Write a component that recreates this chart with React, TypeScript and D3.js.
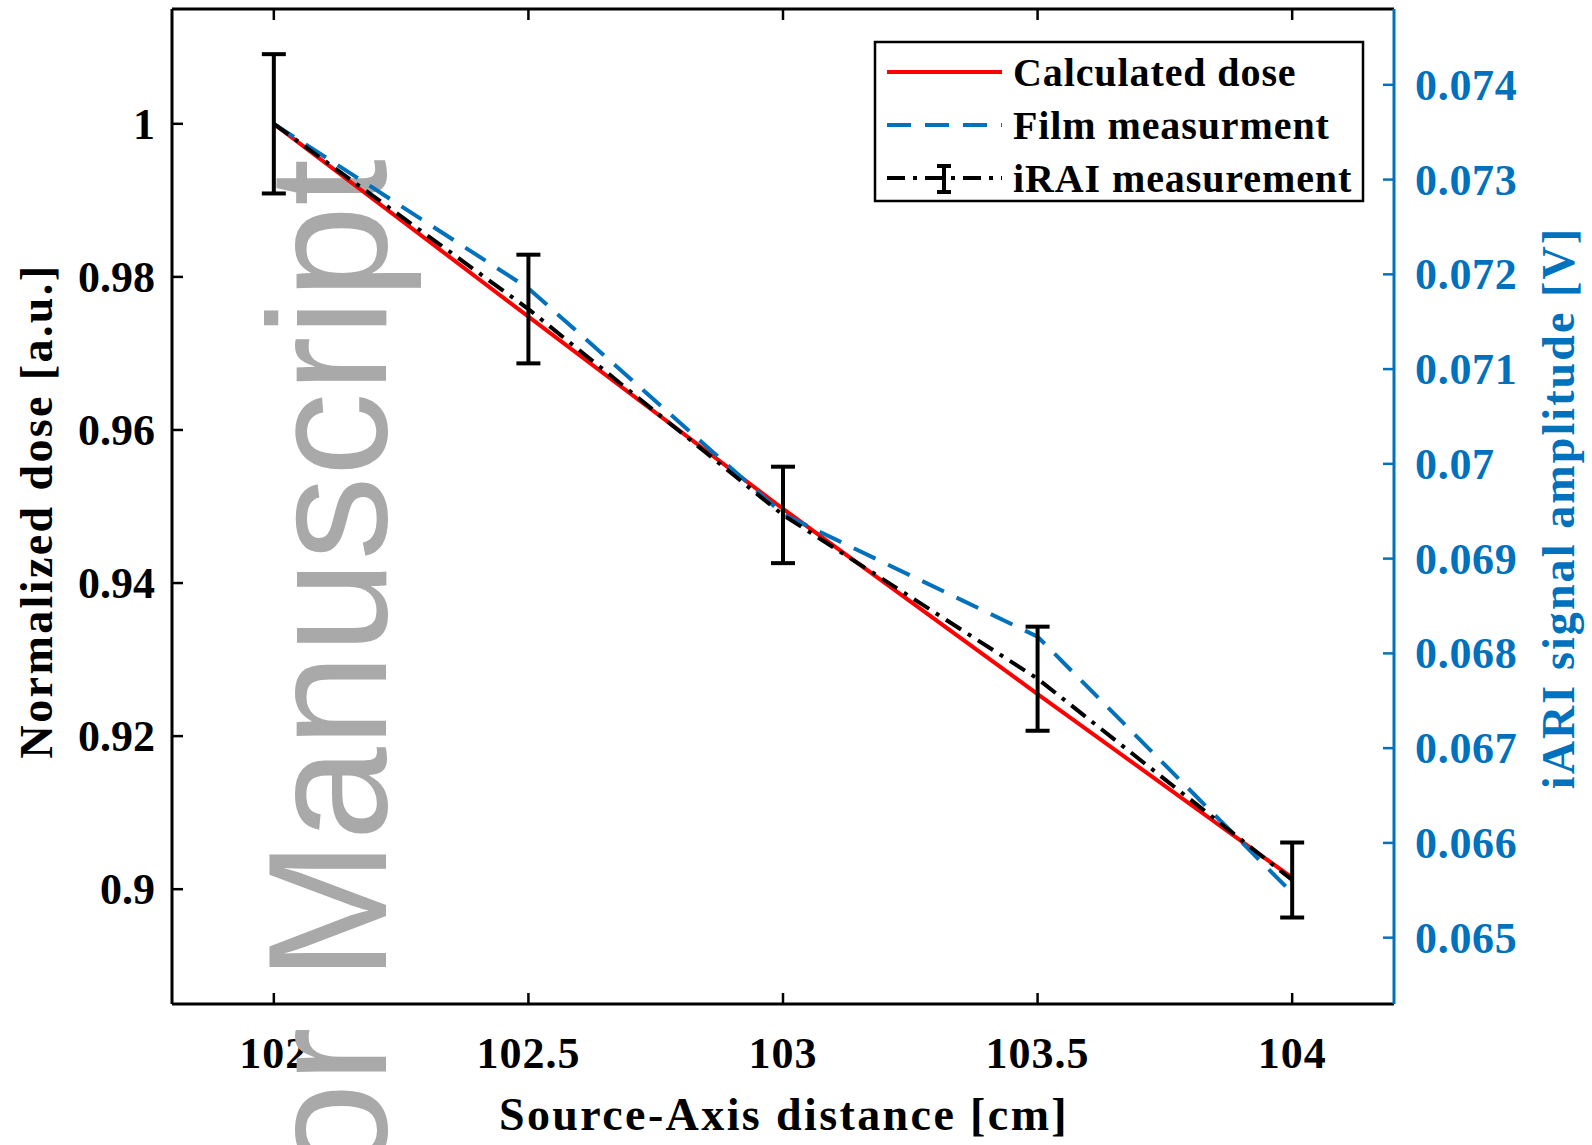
import React from "react";
import * as d3 from "d3";

// source-axis distance [cm]
const distance = [102, 102.5, 103, 103.5, 104];
// normalized dose values
const calculatedDose = [1.0, 0.9748, 0.9497, 0.9255, 0.9015];
const filmMeasurement = [1.0, 0.9785, 0.949, 0.933, 0.8995];
const iraiMeasurement = [1.0, 0.9758, 0.9489, 0.9275, 0.9012];
const iraiError = [0.0091, 0.0071, 0.0063, 0.0068, 0.0049];

const xTicks = [102, 102.5, 103, 103.5, 104];
const leftTicks = [0.9, 0.92, 0.94, 0.96, 0.98, 1];
const rightTicks = [0.065, 0.066, 0.067, 0.068, 0.069, 0.07, 0.071, 0.072, 0.073, 0.074];

const legendLabels = ["Calculated dose", "Film measurment", "iRAI measurement"];

const W = 1592;
const H = 1145;
const plot = { left: 172, right: 1394, top: 9, bottom: 1004 };
const BLUE = "#0072BD";
const RED = "#ff0000";
const serif = "'Liberation Serif', 'Times New Roman', serif";

export default function App() {
  const x = d3.scaleLinear().domain([101.8, 104.2]).range([plot.left, plot.right]);
  const y = d3.scaleLinear().domain([0.885, 1.015]).range([plot.bottom, plot.top]);
  const yRight = d3.scaleLinear().domain([0.0643, 0.0748]).range([plot.bottom, plot.top]);

  const line = d3
    .line<number>()
    .x((_, i) => x(distance[i]))
    .y((d) => y(d));

  const tickLen = 11;
  const capHalf = 12;

  return (
    <svg
      width={W}
      height={H}
      style={{ position: "absolute", left: 0, top: 0, background: "#fff" }}
      fontFamily={serif}
      fontWeight="bold"
    >
      <rect x={0} y={0} width={W} height={H} fill="#fff" />

      {/* tick labels */}
      {xTicks.map((t) => (
        <text
          key={`xl-${t}`}
          x={x(t)}
          y={1068}
          textAnchor="middle"
          fontSize={44}
          letterSpacing={1}
        >
          {t}
        </text>
      ))}
      {leftTicks.map((t) => (
        <text
          key={`yl-${t}`}
          x={155}
          y={y(t)}
          dy="0.34em"
          textAnchor="end"
          fontSize={44}
        >
          {String(+t.toFixed(2))}
        </text>
      ))}
      {rightTicks.map((t) => (
        <text
          key={`yr-${t}`}
          x={1415}
          y={yRight(t)}
          dy="0.34em"
          textAnchor="start"
          fontSize={44}
          letterSpacing={0.7}
          fill={BLUE}
        >
          {String(+t.toFixed(3))}
        </text>
      ))}

      {/* axis titles */}
      <text x={784} y={1130} textAnchor="middle" fontSize={46} letterSpacing={2.4}>
        Source-Axis distance [cm]
      </text>
      <text
        transform={`translate(52, ${511}) rotate(-90)`}
        textAnchor="middle"
        fontSize={46}
        letterSpacing={2.4}
      >
        Normalized dose [a.u.]
      </text>
      <text
        transform={`translate(1574, ${508}) rotate(-90)`}
        textAnchor="middle"
        fontSize={46}
        letterSpacing={2.1}
        fill={BLUE}
      >
        iARI signal amplitude [V]
      </text>

      {/* watermark */}
      <text
        transform="translate(386, 159) rotate(-90)"
        textAnchor="end"
        fontFamily="'Liberation Sans', Arial, sans-serif"
        fontWeight="normal"
        fontSize={168}
        fill="#a9a9a9"
      >
        Author Manuscript
      </text>

      {/* axes box */}
      <g fill="none" strokeWidth={3}>
        <line x1={plot.left} x2={plot.right} y1={plot.bottom} y2={plot.bottom} stroke="#000" />
        <line x1={plot.left} x2={plot.right} y1={plot.top} y2={plot.top} stroke="#000" />
        <line x1={plot.left} x2={plot.left} y1={plot.top} y2={plot.bottom} stroke="#000" />
        <line x1={plot.right} x2={plot.right} y1={plot.top} y2={plot.bottom} stroke={BLUE} />
      </g>
      <g strokeWidth={2.5}>
        {xTicks.map((t) => (
          <g key={`xt-${t}`} stroke="#000">
            <line x1={x(t)} x2={x(t)} y1={plot.bottom} y2={plot.bottom - tickLen} />
            <line x1={x(t)} x2={x(t)} y1={plot.top} y2={plot.top + tickLen} />
          </g>
        ))}
        {leftTicks.map((t) => (
          <line
            key={`ytk-${t}`}
            x1={plot.left}
            x2={plot.left + tickLen}
            y1={y(t)}
            y2={y(t)}
            stroke="#000"
          />
        ))}
        {rightTicks.map((t) => (
          <line
            key={`yrt-${t}`}
            x1={plot.right}
            x2={plot.right - tickLen}
            y1={yRight(t)}
            y2={yRight(t)}
            stroke={BLUE}
          />
        ))}
      </g>

      {/* data */}
      <path d={line(calculatedDose) ?? ""} fill="none" stroke={RED} strokeWidth={4} />
      <path
        d={line(filmMeasurement) ?? ""}
        fill="none"
        stroke={BLUE}
        strokeWidth={4}
        strokeDasharray="24,14"
      />
      <path
        d={line(iraiMeasurement) ?? ""}
        fill="none"
        stroke="#000"
        strokeWidth={4}
        strokeDasharray="18,8,4,8"
      />
      <g stroke="#000" strokeWidth={4}>
        {iraiMeasurement.map((v, i) => {
          const cx = x(distance[i]);
          const y0 = y(v + iraiError[i]);
          const y1 = y(v - iraiError[i]);
          return (
            <g key={`eb-${i}`}>
              <line x1={cx} x2={cx} y1={y0} y2={y1} />
              <line x1={cx - capHalf} x2={cx + capHalf} y1={y0} y2={y0} />
              <line x1={cx - capHalf} x2={cx + capHalf} y1={y1} y2={y1} />
            </g>
          );
        })}
      </g>

      {/* legend */}
      <g>
        <rect x={875} y={42} width={488} height={159} fill="#fff" stroke="#000" strokeWidth={2.5} />
        <line x1={887} x2={1002} y1={72} y2={72} stroke={RED} strokeWidth={4} />
        <line
          x1={887}
          x2={1002}
          y1={125}
          y2={125}
          stroke={BLUE}
          strokeWidth={4}
          strokeDasharray="24,14"
        />
        <line
          x1={887}
          x2={1002}
          y1={178}
          y2={178}
          stroke="#000"
          strokeWidth={4}
          strokeDasharray="18,8,4,8"
        />
        <g stroke="#000" strokeWidth={4}>
          <line x1={944} x2={944} y1={166} y2={192} />
          <line x1={937} x2={951} y1={166} y2={166} />
          <line x1={937} x2={951} y1={192} y2={192} />
        </g>
        {legendLabels.map((lab, i) => (
          <text
            key={lab}
            x={1013}
            y={72 + i * 53}
            dy="0.34em"
            fontSize={40}
            letterSpacing={0.9}
          >
            {lab}
          </text>
        ))}
      </g>
    </svg>
  );
}
